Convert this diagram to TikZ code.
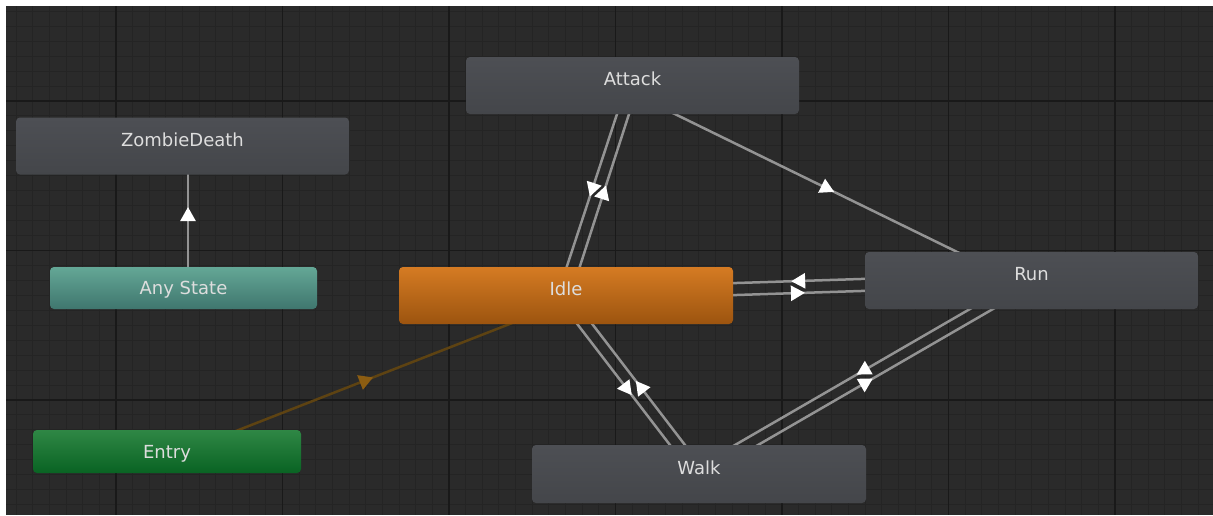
\documentclass[tikz,border=0pt]{standalone}
\usepackage{fontspec}
\setmainfont{DejaVu Sans}
\usetikzlibrary{arrows.meta,decorations.markings}
\definecolor{bgc}{HTML}{2A2A2A}
\definecolor{minorc}{HTML}{242424}
\definecolor{majorc}{HTML}{191919}
\definecolor{grayTop}{HTML}{4D4F54}
\definecolor{grayBot}{HTML}{44464A}
\definecolor{idleTop}{HTML}{D57B23}
\definecolor{idleBot}{HTML}{9C540F}
\definecolor{anyTop}{HTML}{64A796}
\definecolor{anyBot}{HTML}{3F766E}
\definecolor{entryTop}{HTML}{2F8745}
\definecolor{entryBot}{HTML}{096323}
\definecolor{txtc}{HTML}{DDDDDD}
\definecolor{linec}{HTML}{939393}
\definecolor{entryline}{HTML}{5E4312}
\definecolor{entryarrow}{HTML}{8C5D12}
\pgfdeclarelayer{gridlayer}
\pgfdeclarelayer{edgelayer}
\pgfsetlayers{gridlayer,edgelayer,main}
\tikzset{
  box/.style={rounded corners=4pt, inner sep=0pt, text=txtc,
    font=\fontsize{18}{20}\selectfont},
  state/.style={box, minimum width=333pt, minimum height=57pt,
    top color=grayTop, bottom color=grayBot, text height=11pt, text depth=11pt},
  trans/.style={draw=linec, line width=2.5pt, postaction={decorate},
    decoration={markings, mark=at position #1 with {\arrow[xshift=9pt]{Triangle[width=15pt,length=14pt,color=white,fill=white]}}}},
  trans/.default=0.5,
  entrytrans/.style={draw=entryline, line width=2.5pt, postaction={decorate},
    decoration={markings, mark=at position #1 with {\arrow[xshift=9pt]{Triangle[width=15pt,length=14pt,color=entryarrow,fill=entryarrow]}}}},
  entrytrans/.default=0.5
}
\begin{document}
\begin{tikzpicture}[x=1pt,y=-1pt]
\useasboundingbox (0,0) rectangle (1213,515);
\begin{pgfonlayer}{gridlayer}
\fill[white] (0,0) rectangle (1213,515);
\begin{scope}
  \clip (6,6) rectangle (1213,515);
  \fill[bgc] (6,6) rectangle (1213,515);
  \foreach \i in {-7,...,66} \draw[minorc, line width=1pt] (116+\i*16.65,0) -- (116+\i*16.65,515);
  \foreach \j in {-7,...,28} \draw[minorc, line width=1pt] (0,101+\j*14.95) -- (1213,101+\j*14.95);
  \foreach \i in {-1,...,6} \draw[majorc, line width=1.2pt] (116+\i*166.5,0) -- (116+\i*166.5,515);
  \foreach \j in {0,...,2} \draw[majorc, line width=1.2pt] (0,101+\j*149.5) -- (1213,101+\j*149.5);
\end{scope}
\end{pgfonlayer}

\node[state] (zd) at (182.5,146) {ZombieDeath};
\node[state] (attack) at (632.5,85.5) {Attack};
\node[box, minimum width=267pt, minimum height=42pt, text depth=0pt, top color=anyTop, bottom color=anyBot] (any) at (183.5,288) {Any State};
\node[box, minimum width=268pt, minimum height=43pt, text depth=0pt, top color=entryTop, bottom color=entryBot] (entry) at (167,451.5) {Entry};
\node[state, minimum width=334pt, top color=idleTop, bottom color=idleBot] (idle) at (566,295.5) {Idle};
\node[state] (run) at (1031.5,280.5) {Run};
\node[state, minimum width=334pt, minimum height=58pt] (walk) at (699,474) {Walk};

\begin{pgfonlayer}{edgelayer}
\draw[trans=0.507] ([xshift=4.5pt]any.center) -- ([xshift=5.5pt]zd.center);
\draw[entrytrans=0.49] ([xshift=2.2pt,yshift=-5.6pt]entry.center) -- ([xshift=2.2pt,yshift=-5.6pt]idle.center);
\draw[trans=0.488] ([xshift=-6.1pt]attack.center) -- ([xshift=-8.7pt]idle.center);
\draw[trans=0.483] ([xshift=4.5pt]idle.center) -- ([xshift=5.7pt]attack.center);
\draw[trans=0.493] ([xshift=-3.1pt,yshift=-6.3pt]attack.center) -- ([xshift=-3.1pt,yshift=-6.3pt]run.center);
\draw[trans=0.497] ([yshift=7pt]run.center) -- ([yshift=7pt]idle.center);
\draw[trans=0.494] ([yshift=-5pt]idle.center) -- ([yshift=-5pt]run.center);
\draw[trans=0.518] ([xshift=-10.6pt]idle.center) -- ([xshift=-6.8pt]walk.center);
\draw[trans=0.482] ([xshift=8.2pt]walk.center) -- ([xshift=4.4pt]idle.center);
\draw[trans=0.463] ([xshift=-12.3pt]run.center) -- ([xshift=-14.1pt]walk.center);
\draw[trans=0.47] ([xshift=8.9pt]walk.center) -- ([xshift=10.7pt]run.center);
\end{pgfonlayer}
\end{tikzpicture}
\end{document}
